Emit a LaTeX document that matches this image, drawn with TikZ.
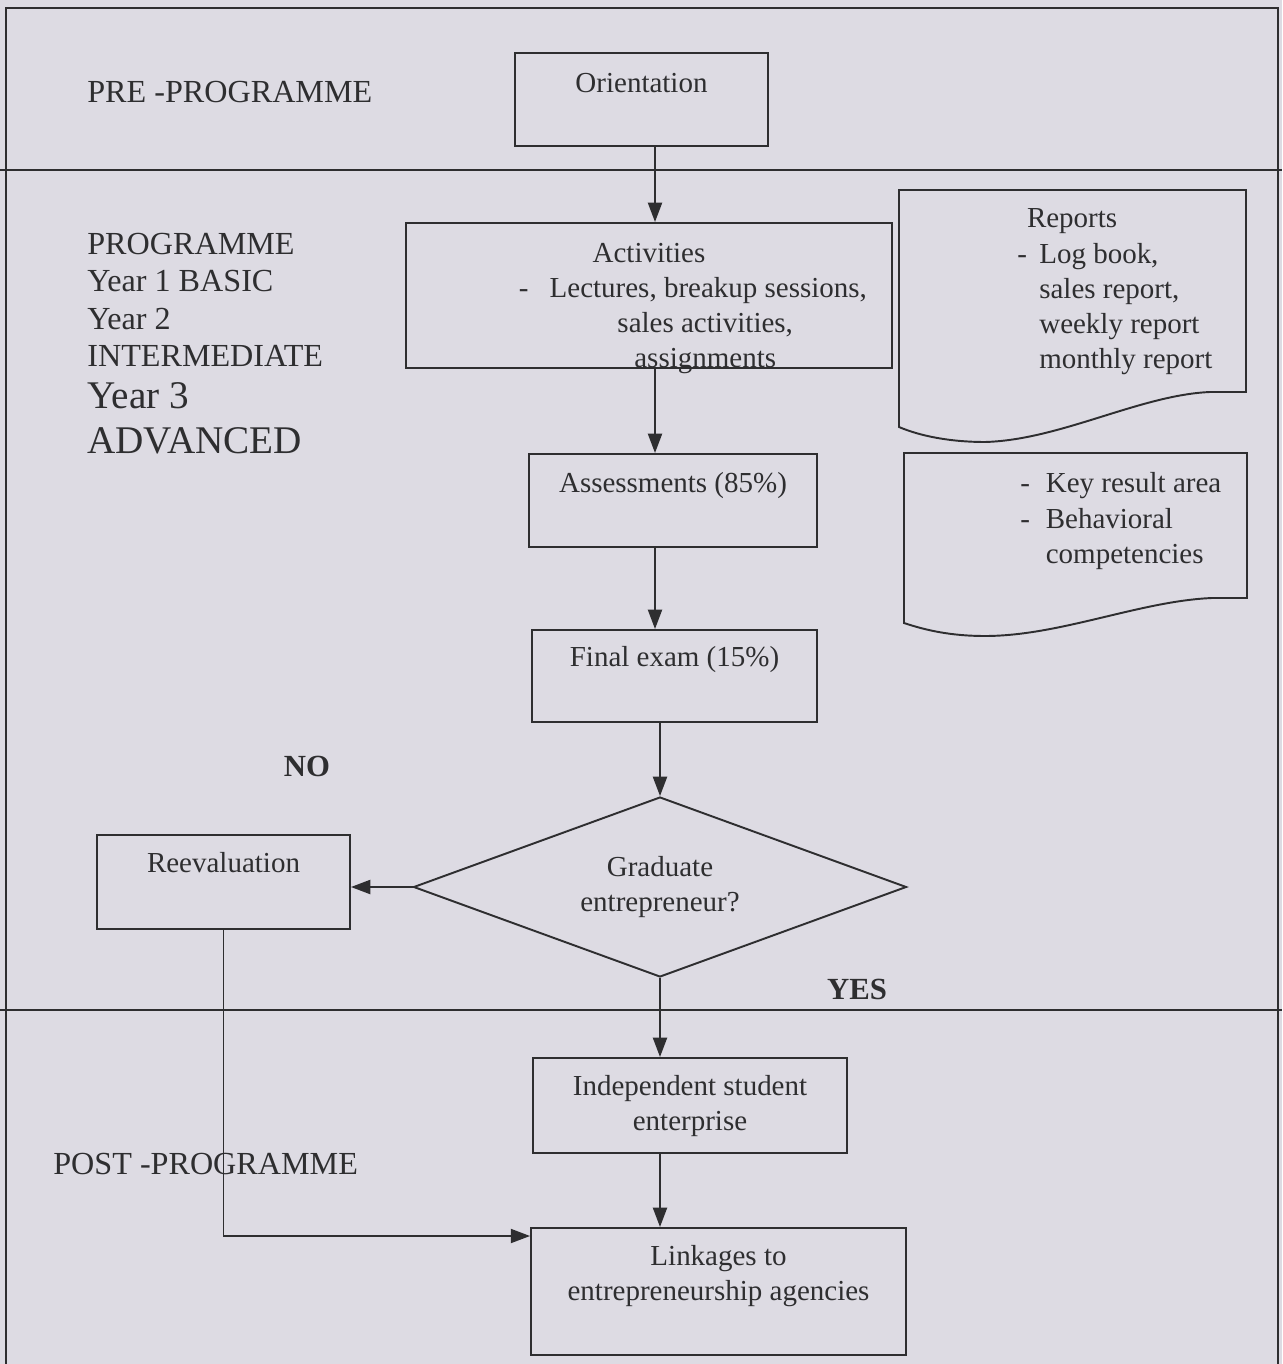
\documentclass[tikz,border=0pt]{standalone}
\usepackage{fontspec}
\setmainfont{Liberation Serif}
\usetikzlibrary{positioning, shapes.geometric, arrows.meta}
\definecolor{paper}{HTML}{DDDBE3}
\definecolor{ink}{HTML}{2E2E30}

\begin{document}
\begin{tikzpicture}[x=0.02cm, y=-0.02cm, >={Triangle[length=11pt, width=8pt]},
  every node/.style={font=\fontsize{16.5}{20}\selectfont, text=ink},
  box/.style={draw=ink, line width=1.1pt, inner ysep=0pt, align=center, anchor=north},
  decision/.style={draw=ink, line width=1.1pt, diamond, aspect=2.74, align=center,
    minimum width=9.86cm, minimum height=3.6cm, inner sep=0pt},
  phase/.style={inner sep=0pt, font=\fontsize{18.3}{21.2}\selectfont},
  flow/.style={draw=ink, line width=1.1pt},
  doc/.style={draw=ink, line width=1.1pt},
  rule/.style={draw=ink, line width=1.6pt}]
\useasboundingbox (0,0) rectangle (1282,1364);
\fill[paper] (0,0) rectangle (1282,1364);
% frame and phase rules
\draw[rule] (6,1364) -- (6,8) -- (1278,8) -- (1278,1364);
\draw[rule] (0,170) -- (1282,170);
\draw[rule] (0,1010) -- (1282,1010);
% phase labels
\node[phase, anchor=base west] (pre) at (87,103) {PRE -PROGRAMME};
\node[phase, anchor=north west, align=left] (prog) at (87,233)
  {PROGRAMME\\Year 1 BASIC\\Year 2\\INTERMEDIATE};
\node[phase, anchor=north west, align=left, font=\fontsize{22.3}{25.5}\selectfont] (level) at (87,382)
  {Year 3\\ADVANCED};
\node[phase, anchor=base west] (post) at (53,1174) {POST -PROGRAMME};
\node[phase, anchor=base, font=\fontsize{17.5}{20}\selectfont\bfseries] (no) at (307,776) {NO};
\node[phase, anchor=base, font=\fontsize{17.5}{20}\selectfont\bfseries] (yes) at (857,999) {YES};
% steps
\node[box, minimum width=5.06cm, text height=0.8cm, text depth=1.06cm] (orient) at (641.5,52) {Orientation};
\node[box, minimum width=9.72cm, text height=2.9cm, text depth=0cm] (act) at (649,222)
  {Activities\\ \hspace*{50pt}-\hspace{12pt}Lectures, breakup sessions,\\
   \hspace*{64pt}sales activities,\\ \hspace*{64pt}assignments};
\node[box, minimum width=5.76cm, text height=0.78cm, text depth=1.08cm] (assess) at (673,453) {Assessments (85\%)};
\node[box, minimum width=5.7cm, text height=0.74cm, text depth=1.1cm] (final) at (674.5,629) {Final exam (15\%)};
\node[decision] (decide) at (660,887) {Graduate\\entrepreneur?};
\node[box, minimum width=5.06cm, text height=0.76cm, text depth=1.12cm] (reeval) at (223.5,834) {Reevaluation};
\node[box, minimum width=6.28cm, text height=1.46cm, text depth=0.44cm] (indep) at (690,1057)
  {Independent student\\enterprise};
\node[box, minimum width=7.5cm, text height=1.46cm, text depth=1.08cm] (link) at (718.5,1227)
  {Linkages to\\entrepreneurship agencies};
% documents
\draw[doc] (899,190) -- (1246,190) -- (1246,392) -- (1210,392)
  .. controls (1140,395) and (1060,440) .. (985,442)
  .. controls (950,442) and (920,436) .. (899,427) -- cycle;
\node[inner sep=0pt, anchor=north west] (rep) at (1017,203)
  {\begin{tabular}{@{}l@{\hspace{7pt}}l@{}}
   \multicolumn{2}{@{}l@{}}{\hspace{5.5pt}Reports}\\
   - & Log book,\\ & sales report,\\ & weekly report\\ & monthly report
   \end{tabular}};
\draw[doc] (904,453) -- (1247,453) -- (1247,598) -- (1212,598)
  .. controls (1140,601) and (1060,636) .. (985,636)
  .. controls (950,636) and (925,630) .. (904,623) -- cycle;
\node[inner sep=0pt, anchor=north west] (kra) at (1020,468)
  {\begin{tabular}{@{}l@{\hspace{9pt}}l@{}}
   - & Key result area\\ - & Behavioral\\ & competencies
   \end{tabular}};
% connectors
\coordinate (spineA) at (655,0);
\coordinate (spineB) at (660,0);
\draw[flow, ->] (orient.south -| spineA) -- (act.north -| spineA);
\draw[flow, ->] (act.south -| spineA) -- (assess.north -| spineA);
\draw[flow, ->] (assess.south -| spineA) -- (final.north -| spineA);
\draw[flow, ->] (final.south -| spineB) -- (decide.north);
\draw[flow, ->] (decide.west) -- (decide.west -| reeval.east);
\draw[flow, ->] (decide.south) -- (indep.north -| decide.south);
\draw[flow, ->] (indep.south -| spineB) -- (link.north -| spineB);
\draw[flow, ->] (reeval.south) |- ([yshift=-0.18cm]link.north west);
\end{tikzpicture}
\end{document}
